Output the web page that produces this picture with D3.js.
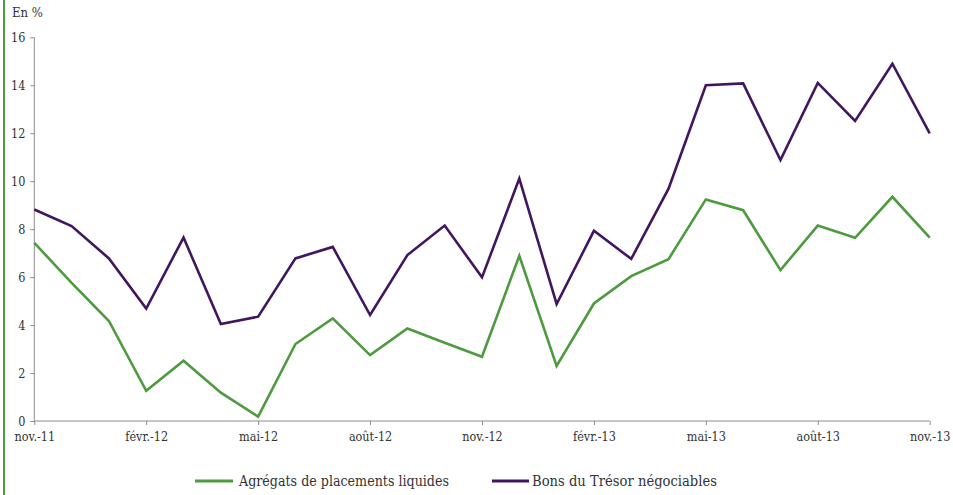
<!DOCTYPE html>
<html><head><meta charset="utf-8">
<script src="https://cdn.jsdelivr.net/npm/d3@7"></script>
<style>
html,body{margin:0;padding:0;background:#fff;}
svg text{font-family:'DejaVu Serif Condensed','DejaVu Serif',serif !important;font-stretch:condensed;}
</style></head>
<body><svg id="c" width="953" height="495"></svg>
<script>
const months = ["nov.-11","déc.-11","janv.-12","févr.-12","mars-12","avr.-12","mai-12","juin-12","juil.-12","août-12","sept.-12","oct.-12","nov.-12","déc.-12","janv.-13","févr.-13","mars-13","avr.-13","mai-13","juin-13","juil.-13","août-13","sept.-13","oct.-13","nov.-13"];
const tickMonths = ["nov.-11","févr.-12","mai-12","août-12","nov.-12","févr.-13","mai-13","août-13","nov.-13"];
const agregats = [7.43,5.76,4.17,1.26,2.51,1.18,0.18,3.21,4.28,2.75,3.86,3.26,2.68,6.89,2.30,4.90,6.04,6.75,9.24,8.79,6.29,8.15,7.64,9.35,7.65];
const bons = [8.82,8.13,6.78,4.69,7.65,4.04,4.35,6.78,7.26,4.42,6.92,8.15,5.99,10.11,4.88,7.93,6.76,9.69,14.00,14.08,10.88,14.10,12.51,14.90,11.99];
const yTicks = [0,2,4,6,8,10,12,14,16];
const seriesNames = ["Agrégats de placements liquides","Bons du Trésor négociables"];
const colors = ["#4e9a3e","#40175f"];

const svg = d3.select("#c");
const x = d3.scalePoint().domain(months).range([34.3, 929.7]);
const y = d3.scaleLinear().domain([0,16]).range([421, 37.3]);

svg.append("line").attr("x1",4).attr("x2",4).attr("y1",0).attr("y2",495)
  .attr("stroke","#4e9a3e").attr("stroke-width",2);

svg.append("text").attr("x",12).attr("y",17).attr("font-size",13).attr("fill","#333").text("En %");

const yAxis = svg.append("g").attr("transform","translate(34.3,0)")
  .call(d3.axisLeft(y).tickValues(yTicks).tickSize(4).tickPadding(5).tickFormat(d3.format("d")));
const xAxis = svg.append("g").attr("transform","translate(0,421)")
  .call(d3.axisBottom(x).tickValues(tickMonths).tickSize(4).tickPadding(7));
[yAxis,xAxis].forEach(a=>{
  a.attr("font-family",null);
  a.selectAll("path,line").attr("stroke","#8c8c8c").attr("stroke-width",1);
  a.selectAll("text").attr("font-size",12.5).attr("fill","#333");
});
xAxis.select(".domain").attr("d","M34.3,0H929.7");
yAxis.select(".domain").attr("d","M0,421V37.3");

const line = d3.line().x((d,i)=>x(months[i])).y(d=>y(d));
[agregats,bons].forEach((s,k)=>{
  svg.append("path").datum(s).attr("d",line).attr("fill","none")
    .attr("stroke",colors[k]).attr("stroke-width",2.6).attr("stroke-linejoin","miter");
});

const leg = [{x1:195,x2:233,tx:239,w:210},{x1:492,x2:529,tx:532,w:185}];
leg.forEach((l,k)=>{
  svg.append("line").attr("x1",l.x1).attr("x2",l.x2).attr("y1",481).attr("y2",481)
    .attr("stroke",colors[k]).attr("stroke-width",3);
  svg.append("text").attr("x",l.tx).attr("y",486).attr("font-size",14.5).attr("fill","#333")
    .attr("textLength",l.w).attr("lengthAdjust","spacingAndGlyphs").text(seriesNames[k]);
});
</script></body></html>
